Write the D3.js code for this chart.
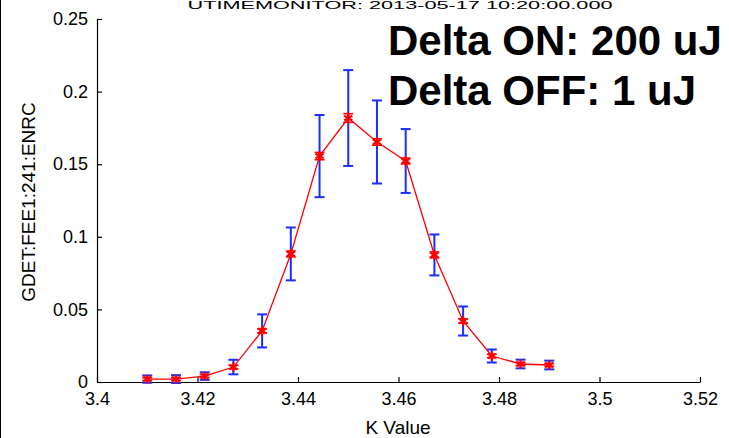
<!DOCTYPE html>
<html>
<head>
<meta charset="utf-8">
<script src="https://cdn.jsdelivr.net/npm/d3@7"></script>
<style>
  html, body { margin: 0; padding: 0; background: #fff; }
  svg { display: block; }
  text { font-family: "Liberation Sans", Arial, sans-serif; }
</style>
</head>
<body>
<svg id="chart" width="729" height="438"></svg>
<script>
// ---- data ----
const kValues = [3.41, 3.415714, 3.421429, 3.427143, 3.432857, 3.438571, 3.444286, 3.45,
                 3.455714, 3.461429, 3.467143, 3.472857, 3.478571, 3.484286, 3.49];
const enrcMean = [0.002, 0.002, 0.0041, 0.0103, 0.0352, 0.0882, 0.1556, 0.1818,
                  0.1653, 0.1522, 0.0875, 0.042, 0.0179, 0.0124, 0.0117];
const enrcStd = [0.0025, 0.0027, 0.0026, 0.005, 0.0114, 0.0182, 0.0283, 0.033,
                 0.0286, 0.022, 0.0141, 0.01, 0.0045, 0.003, 0.003];
const enrcSem = [0.001, 0.001, 0.001, 0.0012, 0.0015, 0.002, 0.0025, 0.003,
                 0.0022, 0.002, 0.002, 0.0015, 0.0012, 0.001, 0.001];
const xTicks = [3.4, 3.42, 3.44, 3.46, 3.48, 3.5, 3.52];
const xTickLabels = ["3.4", "3.42", "3.44", "3.46", "3.48", "3.5", "3.52"];
const yTicks = [0, 0.05, 0.1, 0.15, 0.2, 0.25];
const yTickLabels = ["0", "0.05", "0.1", "0.15", "0.2", "0.25"];
const titleText = "UTIMEMONITOR: 2013-05-17 10:20:00.000";
const annotations = ["Delta ON: 200 uJ", "Delta OFF: 1 uJ"];
const xLabel = "K Value";
const yLabel = "GDET:FEE1:241:ENRC";

// ---- drawing ----
const svg = d3.select("#chart");
const x = d3.scaleLinear().domain([3.4, 3.52]).range([97, 700]);
const y = d3.scaleLinear().domain([0, 0.25]).range([382, 19]);

// figure border line on left
svg.append("line").attr("x1", 0.5).attr("x2", 0.5).attr("y1", 0).attr("y2", 438)
  .attr("stroke", "#000").attr("stroke-width", 1);

// title (top edge)
svg.append("text").attr("x", 400).attr("y", 9).attr("text-anchor", "middle")
  .attr("font-size", 11).attr("textLength", 425).attr("lengthAdjust", "spacingAndGlyphs")
  .attr("fill", "#000").text(titleText);

// axes
const tickFont = 18;
const xAxis = d3.axisBottom(x).tickValues(xTicks)
  .tickFormat((d, i) => xTickLabels[i]).tickSizeInner(-5).tickSizeOuter(0).tickPadding(10);
const gx = svg.append("g").attr("transform", `translate(0,${y(0)})`).call(xAxis);
const yAxis = d3.axisLeft(y).tickValues(yTicks)
  .tickFormat((d, i) => yTickLabels[i]).tickSizeInner(-5).tickSizeOuter(0).tickPadding(9);
const gy = svg.append("g").attr("transform", `translate(${x(3.4)},0)`).call(yAxis);
[gx, gy].forEach(g => {
  g.select(".domain").attr("stroke", "#000").attr("stroke-width", 1.2);
  g.selectAll(".tick line").attr("stroke", "#000").attr("stroke-width", 1.2);
  g.selectAll(".tick text").attr("font-size", tickFont).attr("fill", "#000")
    .attr("font-family", "'Liberation Sans', Arial, sans-serif");
});

// axis labels
svg.append("text").attr("x", 398).attr("y", 434).attr("text-anchor", "middle")
  .attr("font-size", 19).attr("fill", "#000").text(xLabel);
svg.append("text").attr("transform", "translate(35,202) rotate(-90)")
  .attr("text-anchor", "middle").attr("font-size", 19).attr("fill", "#000").text(yLabel);

// data
const pts = kValues.map((k, i) => ({ k, m: enrcMean[i], s: enrcStd[i], e: enrcSem[i] }));

// blue error bars
const blue = "#1a2eff";
const eb = svg.append("g").attr("stroke", blue).attr("stroke-width", 2).attr("fill", "none");
pts.forEach(p => {
  const cx = x(p.k), y1 = y(p.m + p.s), y2 = y(p.m - p.s);
  eb.append("line").attr("x1", cx).attr("x2", cx).attr("y1", y1).attr("y2", y2);
  eb.append("line").attr("x1", cx - 5).attr("x2", cx + 5).attr("y1", y1).attr("y2", y1);
  eb.append("line").attr("x1", cx - 5).attr("x2", cx + 5).attr("y1", y2).attr("y2", y2);
});

// red line
const red = "#ff0000";
svg.append("path").datum(pts)
  .attr("d", d3.line().x(d => x(d.k)).y(d => y(d.m)))
  .attr("fill", "none").attr("stroke", red).attr("stroke-width", 1.3);

// red small error bars
const rb = svg.append("g").attr("stroke", red).attr("stroke-width", 1.6);
pts.forEach(p => {
  const cx = x(p.k), y1 = y(p.m + p.e), y2 = y(p.m - p.e);
  rb.append("line").attr("x1", cx).attr("x2", cx).attr("y1", y1).attr("y2", y2);
  rb.append("line").attr("x1", cx - 5).attr("x2", cx + 5).attr("y1", y1).attr("y2", y1);
  rb.append("line").attr("x1", cx - 5).attr("x2", cx + 5).attr("y1", y2).attr("y2", y2);
});

// red asterisk markers
svg.append("g").selectAll("path").data(pts).join("path")
  .attr("transform", d => `translate(${x(d.k)},${y(d.m)})`)
  .attr("d", d3.symbol().type(d3.symbolAsterisk).size(60))
  .attr("fill", "none").attr("stroke", red).attr("stroke-width", 2.2);

// annotation text
annotations.forEach((t, i) => {
  svg.append("text").attr("x", 388).attr("y", 55 + i * 50)
    .attr("font-size", 42).attr("font-weight", "bold").attr("fill", "#000").text(t);
});
</script>
</body>
</html>
